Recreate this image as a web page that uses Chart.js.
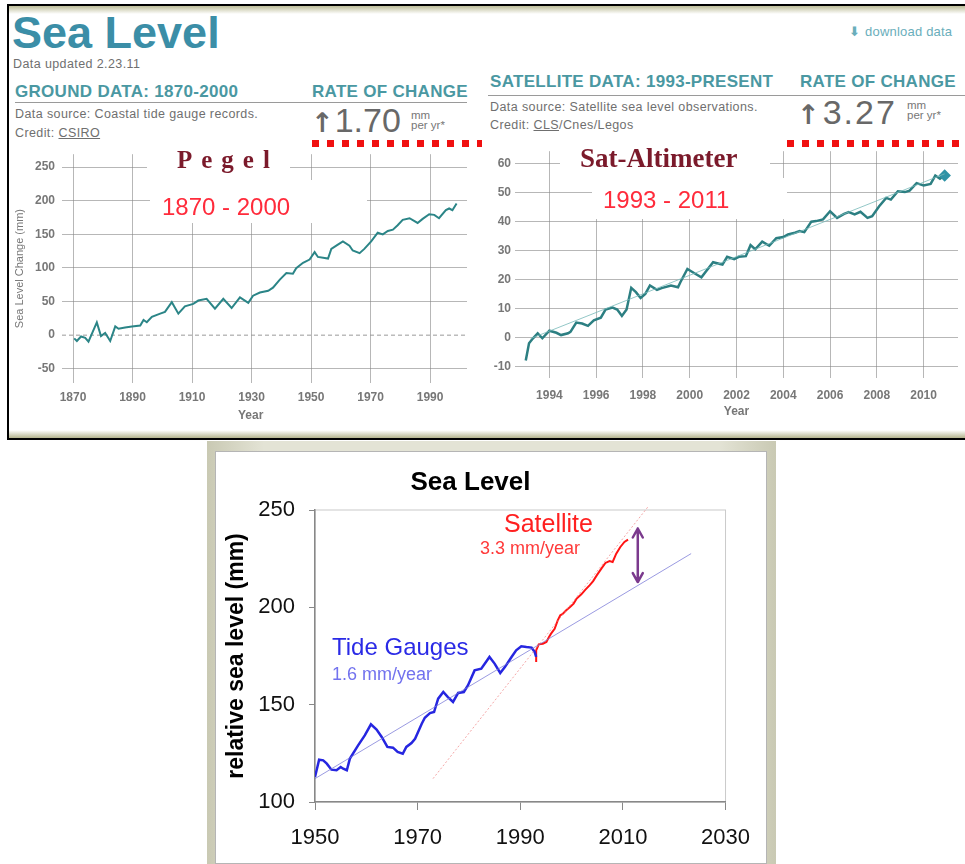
<!DOCTYPE html>
<html lang="de">
<head>
<meta charset="UTF-8" />
<title>Sea Level</title>
<script src="https://cdn.jsdelivr.net/npm/chart.js@4.4.0/dist/chart.umd.min.js"></script>
<style>
  *, *::before, *::after { box-sizing: border-box; margin: 0; padding: 0; }
  body {
    width: 965px; height: 864px; position: relative; overflow: hidden; background: #fff;
    font-family: 'Liberation Sans', Arial, sans-serif;
  }
  .abs { position: absolute; white-space: nowrap; line-height: 1; }
  canvas { position: absolute; }

  /* frames */
  .top-frame {
    position: absolute; left: 7px; top: 4px; width: 970px; height: 436px;
    border: 2px solid #000; border-right: none;
  }
  .top-frame::before, .top-frame::after { content: ''; position: absolute; left: 0; right: 0; height: 8px; }
  .top-frame::before { top: 0; background: linear-gradient(#bdbd98, rgba(255,255,255,0)); }
  .top-frame::after  { bottom: 0; background: linear-gradient(rgba(255,255,255,0), #b3b38c); }
  .bot-frame {
    position: absolute; left: 207px; top: 441px; width: 569px; height: 423px;
    background: linear-gradient(90deg, #c9c9b3, #e3e3d5 10%, #e3e3d5 90%, #c9c9b3);
  }
  .bot-inner {
    position: absolute; left: 215px; top: 451px; width: 552px; height: 413px;
    background: #fff; border: 1px solid #b5b5b5;
  }

  /* header texts */
  .big-title { left: 12px; top: 10px; font-size: 45px; font-weight: bold; color: #3b8ea7; }
  .small  { font-size: 12.5px; color: #6f6f6f; letter-spacing: 0.4px; }
  .head   { font-size: 17px; font-weight: bold; color: #4a98a2; letter-spacing: 0.3px; }
  .rule   { position: absolute; height: 1px; background: #9a9a9a; }
  .rate   { font-size: 34px; color: #686868; }
  .rate .arr { font-family: 'DejaVu Sans', sans-serif; font-size: 27px; font-weight: bold; margin-right: 1px; }
  .unit   { font-size: 11.5px; color: #777; line-height: 10px; }
  .ul     { text-decoration: underline; }
  .dl     { left: 849px; top: 25px; font-size: 13px; color: #6aaebb; letter-spacing: 0.2px; }
  .dl b   { font-family: 'DejaVu Sans', sans-serif; font-size: 13px; margin-right: 5px; }
  .reddots {
    position: absolute; height: 7px;
    background: repeating-linear-gradient(90deg, #f01010 0 7px, transparent 7px 15px);
  }

  /* annotations */
  .blank { position: absolute; background: #fff; }
  .serif { font-family: 'Liberation Serif', 'Times New Roman', serif; font-weight: bold; color: #7b1a2b; }
  .period { font-size: 24px; color: #ff2b3b; }
  .axis-word { font-size: 12px; font-weight: bold; color: #777; }
</style>
</head>
<body>

<div class="top-frame"></div>
<div class="bot-frame"></div>
<div class="bot-inner"></div>

<!-- header, left block -->
<div class="abs big-title">Sea Level</div>
<div class="abs small" style="left:13px; top:58px;">Data updated 2.23.11</div>
<div class="abs head" style="left:15px; top:83px;">GROUND DATA: 1870-2000</div>
<div class="abs head" style="left:312px; top:83px;">RATE OF CHANGE</div>
<div class="rule" style="left:15px; top:102px; width:452px;"></div>
<div class="abs small" style="left:15px; top:108px;">Data source: Coastal tide gauge records.</div>
<div class="abs small" style="left:15px; top:127px;">Credit: <span class="ul">CSIRO</span></div>
<div class="abs rate" style="left:311px; top:103px;"><span class="arr">↑</span>1.70</div>
<div class="abs unit" style="left:411px; top:110px;">mm<br>per yr*</div>
<div class="reddots" style="left:312px; top:140px; width:170px;"></div>

<!-- header, right block -->
<div class="abs dl"><b>⬇</b>download data</div>
<div class="abs head" style="left:490px; top:73px;">SATELLITE DATA: 1993-PRESENT</div>
<div class="abs head" style="left:800px; top:73px;">RATE OF CHANGE</div>
<div class="rule" style="left:488px; top:95px; width:477px;"></div>
<div class="abs small" style="left:490px; top:101px;">Data source: Satellite sea level observations.</div>
<div class="abs small" style="left:490px; top:119px;"><span>Credit: </span><span class="ul">CLS</span>/Cnes/Legos</div>
<div class="abs rate" style="left:797px; top:95px; letter-spacing: 2px;"><span class="arr">↑</span>3.27</div>
<div class="abs unit" style="left:907px; top:100px;">mm<br>per yr*</div>
<div class="reddots" style="left:787px; top:140px; width:180px;"></div>

<canvas id="pegel" width="472" height="290" style="left:8px; top:140px;"></canvas>
<canvas id="altimeter" width="483" height="290" style="left:482px; top:140px;"></canvas>
<canvas id="combined" width="550" height="408" style="left:215px; top:452px;"></canvas>

<!-- overlays on the top charts -->
<div class="blank" style="left:147px; top:147px; width:143px; height:33px;"></div>
<div class="blank" style="left:150px; top:180px; width:217px; height:43px;"></div>
<div class="abs serif" style="left:177px; top:147px; font-size:25px; letter-spacing:9px;">Pegel</div>
<div class="abs period" style="left:162px; top:195px;">1870 - 2000</div>

<div class="blank" style="left:560px; top:146px; width:210px; height:32px;"></div>
<div class="blank" style="left:592px; top:178px; width:195px; height:41px;"></div>
<div class="abs serif" style="left:580px; top:145px; font-size:27px;">Sat-Altimeter</div>
<div class="abs period" style="left:603px; top:188px;">1993 - 2011</div>

<div class="abs axis-word" style="left:238px; top:409px;">Year</div>

<!-- labels on the combined chart -->
<div class="abs" style="left:504px; top:511px; font-size:25px; color:#ff2020;">Satellite</div>
<div class="abs" style="left:480px; top:539px; font-size:18px; color:#ff3a3a;">3.3 mm/year</div>
<div class="abs" style="left:332px; top:635px; font-size:24px; color:#2a2ae6;">Tide Gauges</div>
<div class="abs" style="left:332px; top:665px; font-size:18px; color:#7272ee;">1.6 mm/year</div>

<script>
// ---- top left: tide gauge record (CSIRO), 1870-2000
const pegelYears = [1870.4, 1871.3, 1872.7, 1874.1, 1875.2, 1878.0, 1879.4, 1880.8, 1881.4, 1882.5,
  1884.2, 1885.3, 1887.5, 1889.8, 1892.6, 1893.7, 1894.8, 1896.5, 1899.3, 1900.9,
  1903.2, 1905.4, 1907.6, 1910.4, 1912.1, 1914.9, 1917.7, 1920.5, 1923.3, 1926.1,
  1928.9, 1930.5, 1932.8, 1935.6, 1937.2, 1939.5, 1941.7, 1943.9, 1945.0, 1947.3,
  1949.5, 1951.2, 1952.3, 1955.7, 1956.8, 1959.0, 1960.7, 1962.9, 1964.0, 1966.3,
  1967.9, 1970.2, 1972.4, 1974.1, 1975.8, 1977.5, 1979.1, 1980.8, 1983.1, 1985.8,
  1987.5, 1989.7, 1991.4, 1993.0, 1995.3, 1996.4, 1997.5, 1998.9];
const pegelMm = [-4.8, -8.7, -2, -4, -9.6, 19, -1.4, 3.4, -1, -8.7,
  13, 9.6, 11.5, 13, 14.4, 22.6, 19.2, 27.4, 32, 34.6,
  49, 32, 43, 46.6, 51.5, 54, 39.4, 54, 40.4, 56.3,
  48, 58.7, 63.5, 66, 70.7, 82.7, 92.4, 91.4, 99.6, 107.7,
  112.5, 123.6, 116.4, 114, 128.4, 134.7, 139.5, 133.2, 126, 122,
  128.4, 139.5, 152.5, 150, 155, 157, 163.5, 171.7, 174, 167,
  173, 180, 179, 174, 186, 188.5, 186, 195.8];
const pegelXTicks = [1870, 1890, 1910, 1930, 1950, 1970, 1990];
const pegelYTicks = [-50, 0, 50, 100, 150, 200, 250];

// ---- top right: satellite altimetry, 1993-2011
const altYears = [1992.99, 1993.13, 1993.3, 1993.5, 1993.7, 1994.0, 1994.3, 1994.5, 1994.8, 1994.9,
  1995.15, 1995.4, 1995.65, 1995.9, 1996.2, 1996.4, 1996.7, 1996.9, 1997.1, 1997.3,
  1997.5, 1997.7, 1997.9, 1998.1, 1998.3, 1998.6, 1998.8, 1999.2, 1999.5, 1999.6,
  1999.9, 2000.2, 2000.5, 2000.7, 2001.0, 2001.3, 2001.4, 2001.6, 2001.9, 2002.1,
  2002.4, 2002.6, 2002.8, 2003.1, 2003.4, 2003.7, 2004.0, 2004.2, 2004.5, 2004.7,
  2004.9, 2005.2, 2005.4, 2005.7, 2006.0, 2006.3, 2006.6, 2006.8, 2007.05, 2007.3,
  2007.6, 2007.8, 2008.1, 2008.4, 2008.6, 2008.9, 2009.2, 2009.4, 2009.7, 2010.0,
  2010.3, 2010.5, 2010.7, 2010.9];
const altMm = [-7.9, -1.9, -0.2, 1.5, -0.2, 2.4, 1.7, 0.9, 1.5, 2,
  5.2, 4.9, 4.1, 6, 6.9, 9.7, 10.4, 9.7, 7.5, 9.7,
  17.2, 15.7, 13.7, 15.1, 18, 16.5, 17.1, 18, 17.4, 19.1,
  23.7, 22.2, 20.8, 22.9, 26, 25.4, 25.2, 27.9, 27.1, 27.9,
  28.1, 31.9, 30.5, 33.1, 31.7, 34.3, 34.7, 35.6, 36.2, 36.8,
  36.4, 40, 40.2, 40.8, 43.6, 41.3, 42.7, 43.3, 42.5, 43.4,
  41.3, 41.9, 45.3, 48.2, 47.6, 50.5, 50.2, 50.7, 53.3, 52.5,
  53, 55.9, 54.8, 55.9];
const altTrendYears = [1993.2, 2010.9];
const altTrendMm = [-0.3, 56.5];
const altXTicks = [1994, 1996, 1998, 2000, 2002, 2004, 2006, 2008, 2010];
const altYTicks = [-10, 0, 10, 20, 30, 40, 50, 60];

// ---- bottom: both records on one scale
const tideYears = [1950, 1950.8, 1951.6, 1952.3, 1953.2, 1954.2, 1955, 1955.5, 1956.2, 1956.8,
  1958.4, 1959.7, 1960.9, 1962, 1963, 1964.1, 1965.2, 1966.1, 1967.1, 1967.8,
  1968.8, 1969.5, 1970.8, 1971.4, 1972.4, 1973.2, 1974, 1975, 1975.9, 1976.9,
  1977.9, 1979, 1979.8, 1981.1, 1982.4, 1984, 1985, 1986.1, 1987, 1988.3,
  1989.2, 1990.2, 1991.2, 1992.2, 1992.8, 1993.1];
const tideMm = [112.8, 121.7, 121.4, 119.7, 116.6, 116.3, 118, 117.1, 116.3, 122.3,
  129.1, 134.2, 139.9, 137.2, 133.4, 128.3, 127.9, 125.7, 124.8, 128.3,
  130.3, 132.5, 140.2, 143.3, 145.7, 146.2, 153.1, 156.5, 153.9, 151.4,
  156, 156.5, 159.9, 167.6, 168.5, 174.5, 171.1, 166.3, 169.3, 174.5,
  177.9, 180, 179.6, 179.3, 177.1, 174.5];
const satYears = [1993.1, 1993.1, 1993.6, 1994.4, 1995.1, 1995.6, 1996, 1996.7, 1997.3, 1997.8,
  1998.3, 1998.96, 1999.7, 2000.4, 2001, 2001.9, 2002.7, 2003.5, 2004.2, 2004.9,
  2005.8, 2006.6, 2007.4, 2008, 2008.7, 2009.5, 2010.3, 2011];
const satMm = [171.9, 177.9, 181, 181.3, 182.2, 184.8, 186.5, 189, 193.3, 195.9,
  196.7, 198.5, 200.2, 201.9, 204.5, 206.7, 209.1, 211.3, 213.5, 216.4,
  219.9, 222.8, 223.8, 223.3, 227.6, 231, 233.6, 234.8];
const tideTrendYears = [1950, 2023.3];
const tideTrendMm = [112, 227.6];
const satTrendYears = [1973, 2015];
const satTrendMm = [112, 252];
const gapYears = [2012.9];
const gapMm = [213, 240.5];
const combinedXTicks = [1950, 1970, 1990, 2010, 2030];
const combinedYTicks = [100, 150, 200, 250];

Chart.defaults.font.family = "'Liberation Sans', Arial, sans-serif";
Chart.defaults.animation = false;
Chart.defaults.responsive = false;
Chart.defaults.plugins.legend.display = false;
Chart.defaults.plugins.tooltip.enabled = false;

const GRID = 'rgba(135,135,135,0.6)';
const TICK_FONT = { size: 12, weight: 'bold' };

const xy = (xs, ys) => xs.map((x, i) => ({ x, y: ys[i] }));
const fixedSize = (prop, px) => axis => { axis[prop] = px; };
const setTicks = list => axis => { axis.ticks = list.map(v => ({ value: v })); };
const plain = v => String(v);

// dashed zero line of the tide gauge panel
const zeroDash = {
  id: 'zeroDash',
  beforeDatasetsDraw(chart) {
    const { ctx, chartArea: a, scales: { y } } = chart;
    const py = y.getPixelForValue(0);
    ctx.save();
    ctx.strokeStyle = '#9a9a9a';
    ctx.lineWidth = 1;
    ctx.setLineDash([4, 3]);
    ctx.beginPath(); ctx.moveTo(a.left, py); ctx.lineTo(a.right, py); ctx.stroke();
    ctx.restore();
  }
};

// light box round the plot of the bottom chart
const plotFrame = {
  id: 'plotFrame',
  beforeDraw(chart) {
    const { ctx, chartArea: a } = chart;
    ctx.save();
    ctx.strokeStyle = '#cacaca';
    ctx.lineWidth = 1;
    ctx.strokeRect(a.left, a.top, a.right - a.left, a.bottom - a.top);
    ctx.restore();
  }
};

// purple double arrow between the two trends
const gapArrow = {
  id: 'gapArrow',
  afterDatasetsDraw(chart) {
    const { ctx, scales: { x, y } } = chart;
    const px = x.getPixelForValue(gapYears[0]);
    const bot = y.getPixelForValue(gapMm[0]);
    const top = y.getPixelForValue(gapMm[1]);
    ctx.save();
    ctx.strokeStyle = '#7b3a8d';
    ctx.lineWidth = 2.5;
    ctx.lineCap = 'round';
    ctx.lineJoin = 'round';
    ctx.beginPath();
    ctx.moveTo(px, top); ctx.lineTo(px, bot);
    ctx.moveTo(px - 5, top + 9); ctx.lineTo(px, top); ctx.lineTo(px + 5, top + 9);
    ctx.moveTo(px - 5, bot - 9); ctx.lineTo(px, bot); ctx.lineTo(px + 5, bot - 9);
    ctx.stroke();
    ctx.restore();
  }
};

new Chart(document.getElementById('pegel'), {
  type: 'line',
  data: {
    datasets: [{
      data: xy(pegelYears, pegelMm),
      borderColor: '#2b8587', borderWidth: 2, pointRadius: 0, tension: 0,
    }],
  },
  options: {
    layout: { padding: { top: 8, right: 13, left: 0, bottom: 0 } },
    scales: {
      x: {
        type: 'linear', min: 1866.3, max: 2002.4,
        afterBuildTicks: setTicks(pegelXTicks), afterFit: fixedSize('height', 47),
        grid: { color: GRID, drawTicks: false }, border: { display: false },
        ticks: { font: TICK_FONT, color: '#777', padding: 7, maxRotation: 0, callback: plain },
      },
      y: {
        type: 'linear', min: -71.2, max: 269.3,
        afterBuildTicks: setTicks(pegelYTicks), afterFit: fixedSize('width', 54),
        grid: { color: c => (c.tick && c.tick.value === 0 ? 'rgba(0,0,0,0)' : GRID), drawTicks: false },
        border: { display: false },
        ticks: { font: TICK_FONT, color: '#777', padding: 7, callback: plain },
        title: { display: true, text: 'Sea Level Change (mm)', color: '#777', font: { size: 11 }, padding: { top: 5 } },
      },
    },
  },
  plugins: [zeroDash],
});

new Chart(document.getElementById('altimeter'), {
  type: 'line',
  data: {
    datasets: [
      {
        data: xy(altTrendYears, altTrendMm),
        borderColor: 'rgba(120,185,185,0.8)', borderWidth: 1, pointRadius: 0,
      },
      {
        data: xy(altYears, altMm),
        borderColor: '#2c7f82', borderWidth: 2.5, tension: 0,
        pointRadius: c => (c.dataIndex === altYears.length - 1 ? 4.5 : 0),
        pointStyle: 'rectRot', pointBackgroundColor: '#2f93a6', pointBorderColor: '#2f93a6',
      },
    ],
  },
  options: {
    layout: { padding: { top: 9, right: 0, left: 0, bottom: 0 } },
    scales: {
      x: {
        type: 'linear', min: 1992.53, max: 2011.47,
        afterBuildTicks: setTicks(altXTicks), afterFit: fixedSize('height', 52),
        grid: { color: GRID, drawTicks: false }, border: { display: false },
        ticks: { font: TICK_FONT, color: '#777', padding: 10, maxRotation: 0, callback: plain },
        title: { display: true, text: 'Year', color: '#777', font: { size: 12, weight: 'bold' }, padding: { bottom: 11 } },
      },
      y: {
        type: 'linear', min: -13.9, max: 64.3,
        afterBuildTicks: setTicks(altYTicks), afterFit: fixedSize('width', 33),
        grid: { color: GRID, drawTicks: false }, border: { display: false },
        ticks: { font: TICK_FONT, color: '#777', padding: 4, callback: plain },
      },
    },
  },
});

new Chart(document.getElementById('combined'), {
  type: 'line',
  data: {
    datasets: [
      {
        data: xy(tideTrendYears, tideTrendMm),
        borderColor: 'rgba(120,120,215,0.75)', borderWidth: 1, pointRadius: 0,
      },
      {
        data: xy(satTrendYears, satTrendMm),
        borderColor: 'rgba(240,130,130,0.7)', borderWidth: 1, borderDash: [2, 2], pointRadius: 0, clip: false,
      },
      {
        data: xy(tideYears, tideMm),
        borderColor: '#2626e0', borderWidth: 2.5, pointRadius: 0, tension: 0,
      },
      {
        data: xy(satYears, satMm),
        borderColor: '#ff1414', borderWidth: 2, pointRadius: 0, tension: 0,
      },
    ],
  },
  options: {
    layout: { padding: { top: 0, right: 39, left: 0, bottom: 0 } },
    plugins: {
      title: {
        display: true, text: 'Sea Level', color: '#000',
        font: { size: 26, weight: 'bold' }, padding: { top: 15, bottom: 11.8 },
      },
    },
    scales: {
      x: {
        type: 'linear', min: 1950, max: 2030,
        afterBuildTicks: setTicks(combinedXTicks), afterFit: fixedSize('height', 58),
        grid: { drawOnChartArea: false, tickLength: 8, tickColor: '#888' },
        border: { color: '#888', width: 1.5 },
        ticks: { font: { size: 22 }, color: '#111', padding: 15, maxRotation: 0, callback: plain },
      },
      y: {
        type: 'linear', min: 100, max: 250,
        afterBuildTicks: setTicks(combinedYTicks), afterFit: fixedSize('width', 100),
        grid: { drawOnChartArea: false, tickLength: 6, tickColor: '#888' },
        border: { color: '#888', width: 1.5 },
        ticks: { font: { size: 22 }, color: '#111', padding: 14, callback: plain },
        title: {
          display: true, text: 'relative sea level (mm)', color: '#000',
          font: { size: 23, weight: 'bold' }, padding: { top: 8 },
        },
      },
    },
  },
  plugins: [plotFrame, gapArrow],
});
</script>
</body>
</html>
